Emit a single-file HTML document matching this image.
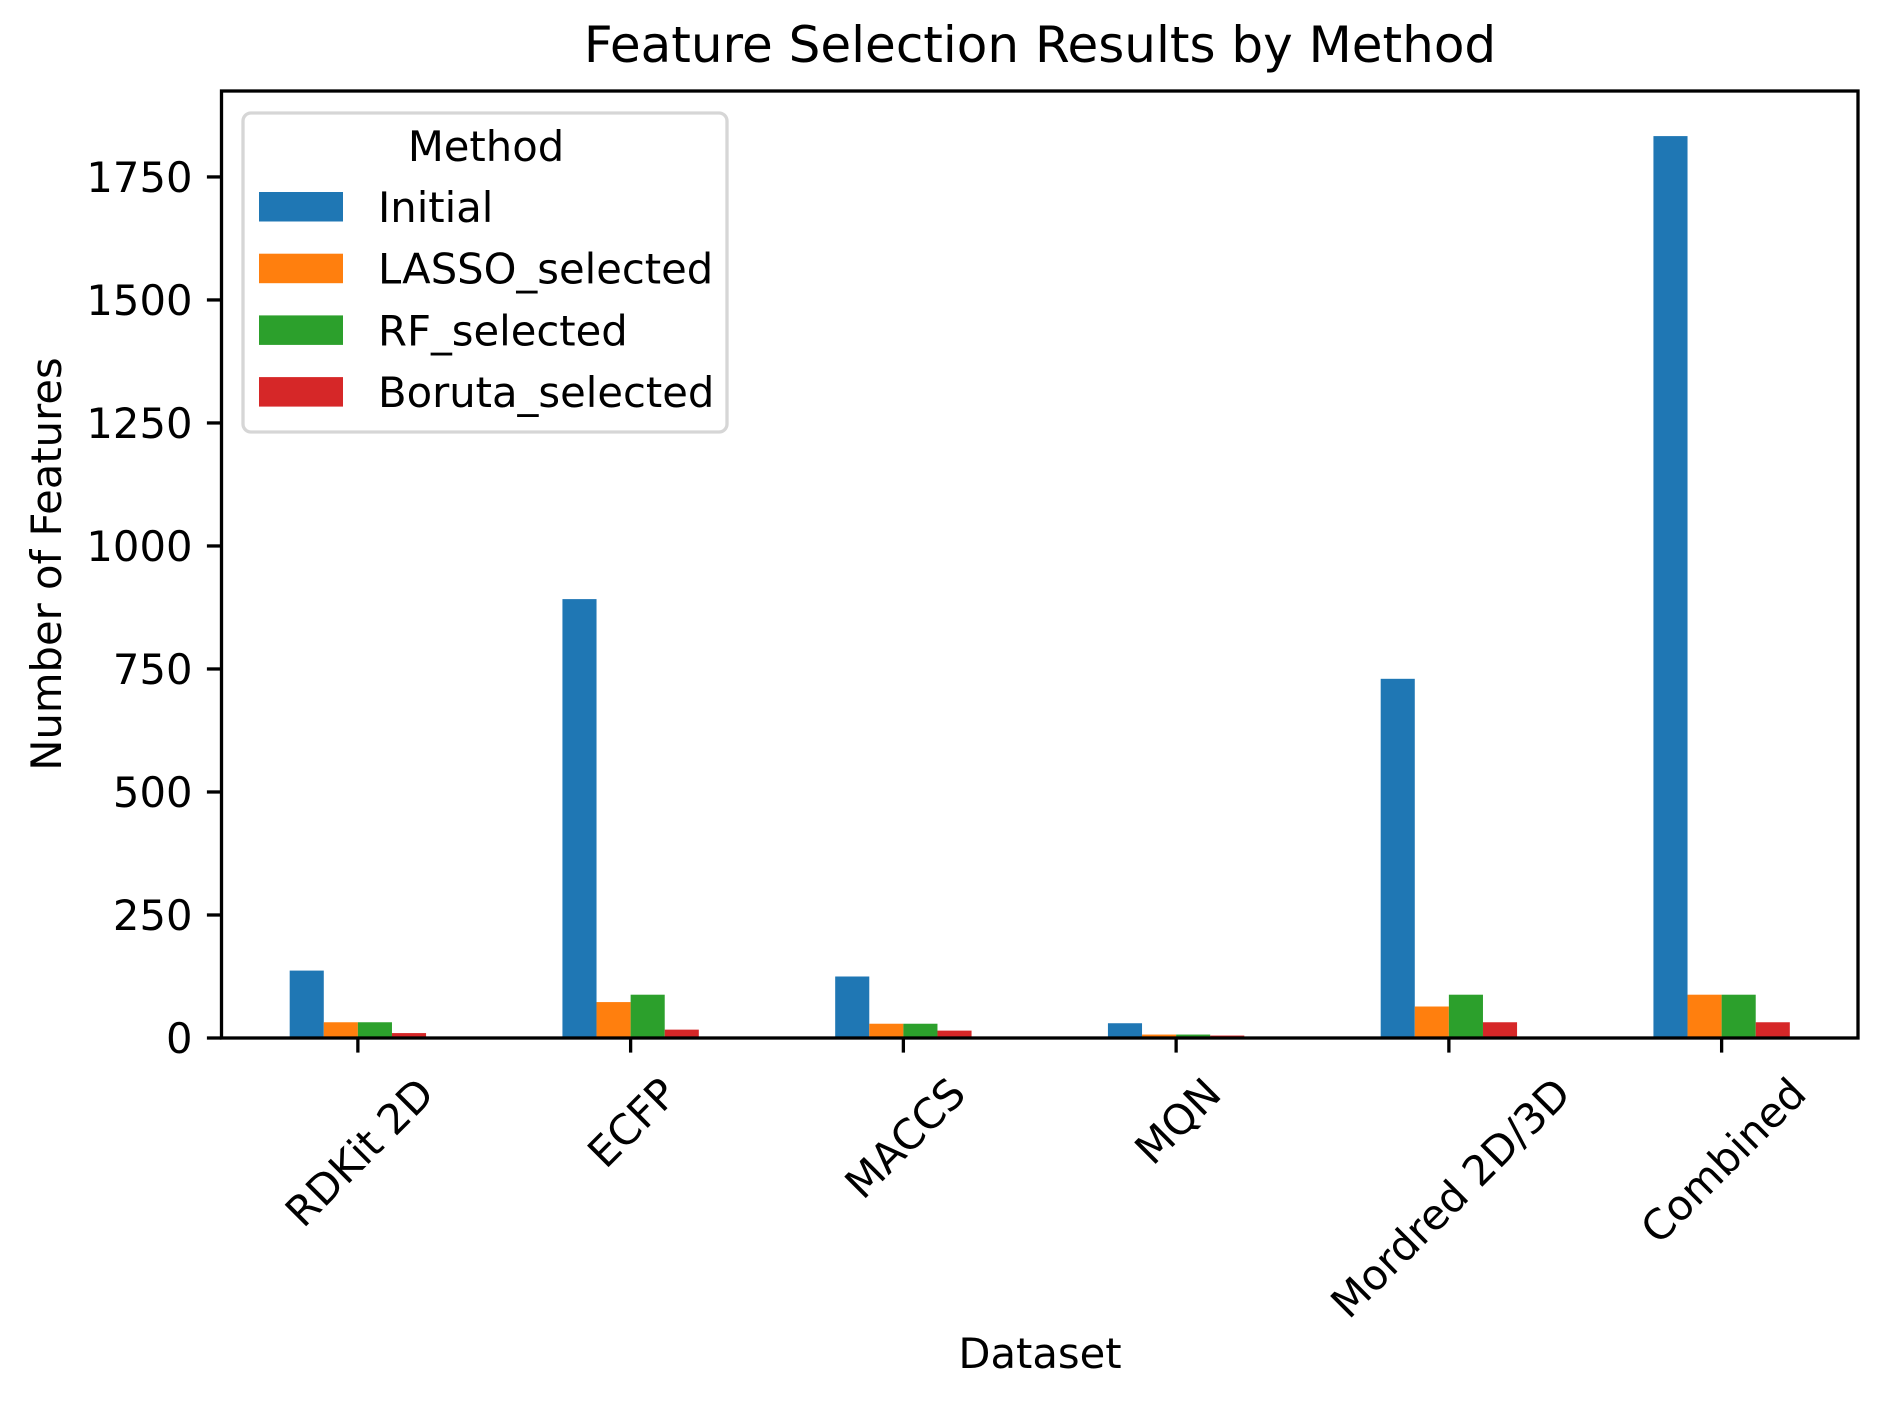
<!DOCTYPE html>
<html><head><meta charset="utf-8"><style>
html,body{margin:0;padding:0;background:#fff;}
svg{display:block;font-family:"DejaVu Sans","Liberation Sans",sans-serif;}
</style></head><body>
<svg id="chart" width="1887" height="1407" viewBox="0 0 1887 1407" xmlns="http://www.w3.org/2000/svg">
<rect width="1887" height="1407" fill="#fff"/>
<text x="1040" y="62" font-size="50" text-anchor="middle">Feature Selection Results by Method</text>
<g id="bars"></g>
<g id="yaxis"></g>
<g id="xaxis"></g>
<rect x="221.5" y="91" width="1636.5" height="947" fill="none" stroke="#000" stroke-width="3.3"/>
<text x="0" y="0" font-size="41.7" text-anchor="middle" transform="translate(61,564) rotate(-90)">Number of Features</text>
<text x="1040" y="1368" font-size="41.7" text-anchor="middle">Dataset</text>
<g id="legend">
<rect x="243" y="113" width="484" height="319" rx="8" fill="#fff" fill-opacity="0.8" stroke="#d6d6d6" stroke-width="3.3"/>
<text x="486" y="161" font-size="41.7" text-anchor="middle">Method</text>
</g>
</svg>
<script>
const categories = ["RDKit 2D","ECFP","MACCS","MQN","Mordred 2D/3D","Combined"];
const seriesNames = ["Initial","LASSO_selected","RF_selected","Boruta_selected"];
const initialValues = [137,892,125,30,730,1833];
const lassoValues = [32,73,29,7,64,88];
const rfValues = [32,88,29,7,88,88];
const borutaValues = [10,17,15,5,32,32];
const yTicks = [0,250,500,750,1000,1250,1500,1750];
const colors = ["#1f77b4","#ff7f0e","#2ca02c","#d62728"];

const NS = "http://www.w3.org/2000/svg";
const pLeft = 221.5, pRight = 1858, pTop = 91, pBottom = 1038;
const allSeries = [initialValues, lassoValues, rfValues, borutaValues];
const maxV = Math.max(...allSeries.flat()) * 1.05;
function yScale(v){ return pBottom - v / maxV * (pBottom - pTop); }
const step = (pRight - pLeft) / categories.length;
function xScale(i){ return pLeft + step * (i + 0.5); }
const barW = step * 0.125;

function mk(tag, attrs, parent){
  const el = document.createElementNS(NS, tag);
  for (const k in attrs) el.setAttribute(k, attrs[k]);
  parent.appendChild(el);
  return el;
}
const bars = document.getElementById('bars');
allSeries.forEach((vals, s) => {
  vals.forEach((v, i) => {
    const bx = xScale(i) - 2 * barW + s * barW;
    const r = mk('rect', {x: bx, y: yScale(v), width: barW, height: pBottom - yScale(v), fill: colors[s]}, bars);
    
    
  });
});
const ya = document.getElementById('yaxis');
yTicks.forEach(t => {
  const ln = mk('line', {x1: pLeft - 14.6, x2: pLeft, y1: yScale(t), y2: yScale(t), stroke: '#000', 'stroke-width': 3.3}, ya);
  
  
  const tx = mk('text', {x: pLeft - 29, y: yScale(t) + 15, 'font-size': 41.7, 'text-anchor': 'end'}, ya);
  tx.textContent = t;
  
  
});
const xa = document.getElementById('xaxis');
categories.forEach((c, i) => {
  const ln = mk('line', {x1: xScale(i), x2: xScale(i), y1: pBottom, y2: pBottom + 14.6, stroke: '#000', 'stroke-width': 3.3}, xa);
  
  
  const tx = mk('text', {x: 0, y: 0, 'font-size': 41.7, 'text-anchor': 'middle'}, xa);
  tx.textContent = c;
  
  
  const w = tx.getComputedTextLength();
  const h = 41.7 * 1.16;
  const cy = pBottom + 29 + (w + h) * 0.7071 / 2;
  tx.setAttribute('transform', 'translate(' + xScale(i) + ',' + cy + ') rotate(-45) translate(0,' + (h * 0.35) + ')');
});
const lg = document.getElementById('legend');
seriesNames.forEach((n, s) => {
  const py = 192 + s * 61.7;
  const r = mk('rect', {x: 259, y: py, width: 84, height: 29.5, fill: colors[s]}, lg);
  
  
  const t = mk('text', {x: 378, y: py + 30, 'font-size': 41.7}, lg);
  t.textContent = n;
  
  
});
</script>
</body></html>
